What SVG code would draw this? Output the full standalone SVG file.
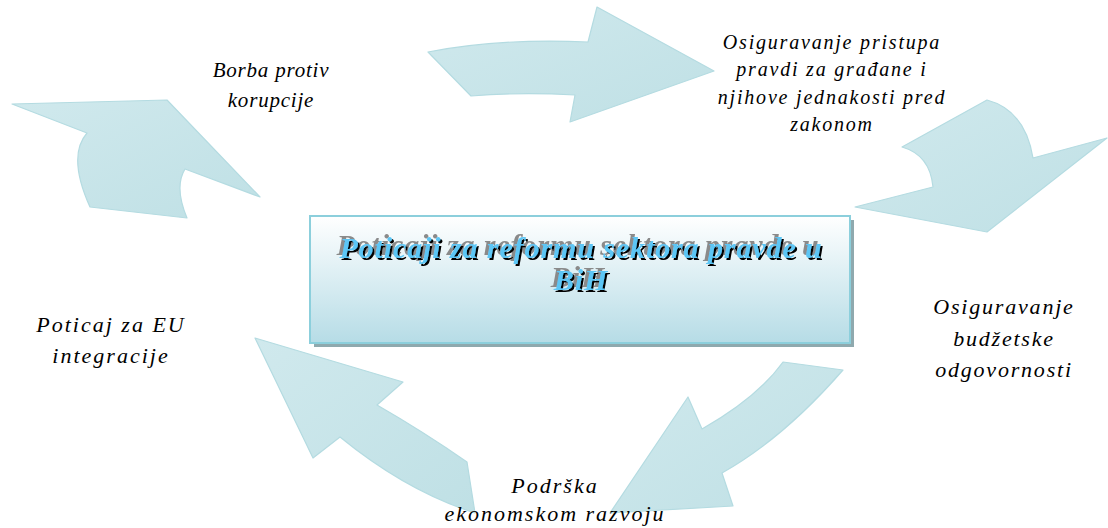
<svg xmlns="http://www.w3.org/2000/svg" width="1108" height="528" viewBox="0 0 1108 528">
<defs>
<linearGradient id="arrowGrad" x1="0" y1="0" x2="1" y2="1">
<stop offset="0" stop-color="#d0e9ed"/>
<stop offset="1" stop-color="#bfe0e5"/>
</linearGradient>
<linearGradient id="boxGrad" x1="0" y1="0" x2="0" y2="1">
<stop offset="0" stop-color="#ffffff"/>
<stop offset="1" stop-color="#b6dce6"/>
</linearGradient>
<filter id="ttlFx" x="-10%" y="-30%" width="120%" height="160%">
<feOffset in="SourceAlpha" dx="-3" dy="-3" result="a"/>
<feFlood flood-color="#8a8a8a"/>
<feComposite in2="a" operator="in" result="gray"/>
<feOffset in="SourceAlpha" dx="2" dy="2" result="b"/>
<feFlood flood-color="#000000"/>
<feComposite in2="b" operator="in" result="black"/>
<feMerge>
<feMergeNode in="gray"/>
<feMergeNode in="black"/>
<feMergeNode in="SourceGraphic"/>
</feMerge>
</filter>
<style>
.arrow{fill:url(#arrowGrad);stroke:#b4dbe1;stroke-width:1.2;stroke-linejoin:round}
.lbl{font-family:"Liberation Serif","Times New Roman",serif;font-style:italic;fill:#000;text-anchor:middle}
.ttl{font-family:"Liberation Serif","Times New Roman",serif;font-style:italic;font-weight:bold;font-size:30px;letter-spacing:0.9px;text-anchor:middle;fill:#5cc6f5}
</style>
</defs>
<g id="connectors">
<path class="arrow" d="M428,52 Q500,38 588,42 L597,7 L714,71 L570,122 L575,95 Q520,92 471,96 Z"/>
<path class="arrow" d="M987,100 Q1025,110 1033,158 L1107,138 L987,232 L855,207 L933,187 Q930,155 902,147 Z"/>
<path class="arrow" d="M783,362 L843,370 Q784,438 722,473 L733,506 L610,513 L688,397 L702,429 Q757,398 783,362 Z"/>
<path class="arrow" d="M255,338 L403,382 L377,405 Q424,432 467,462 L475,513 Q406,491 340,437 L313,458 Z"/>
<path class="arrow" d="M12,104 L167,100 L260,197 L185,169 Q174,187 187,218 L90,207 Q67,156 87,133 Z"/>
</g>
<g id="center">
<rect x="314" y="220" width="540" height="127" fill="#8fa9ae"/>
<rect x="310" y="216" width="540" height="127" fill="url(#boxGrad)" stroke="#8ccfdc" stroke-width="2"/>
<text class="ttl" filter="url(#ttlFx)"><tspan x="581" y="258">Poticaji za reformu sektora pravde u</tspan><tspan x="581" y="290">BiH</tspan></text>
</g>
<g id="n-borba">
<text class="lbl" font-size="21" letter-spacing="0.8"><tspan x="271" y="77">Borba protiv</tspan><tspan x="271" y="107">korupcije</tspan></text>
</g>
<g id="n-pristup">
<text class="lbl" font-size="20" letter-spacing="1.8"><tspan x="832" y="49">Osiguravanje pristupa</tspan><tspan x="832" y="76">pravdi za građane i</tspan><tspan x="832" y="104">njihove jednakosti pred</tspan><tspan x="832" y="131">zakonom</tspan></text>
</g>
<g id="n-budzet">
<text class="lbl" font-size="22" letter-spacing="1.8"><tspan x="1004" y="314">Osiguravanje</tspan><tspan x="1004" y="346">budžetske</tspan><tspan x="1004" y="377">odgovornosti</tspan></text>
</g>
<g id="n-eu">
<text class="lbl" font-size="22" letter-spacing="2"><tspan x="111" y="332">Poticaj za EU</tspan><tspan x="111" y="363">integracije</tspan></text>
</g>
<g id="n-ekonom">
<text class="lbl" font-size="22" letter-spacing="2"><tspan x="555" y="493">Podrška</tspan><tspan x="555" y="521">ekonomskom razvoju</tspan></text>
</g>
</svg>
